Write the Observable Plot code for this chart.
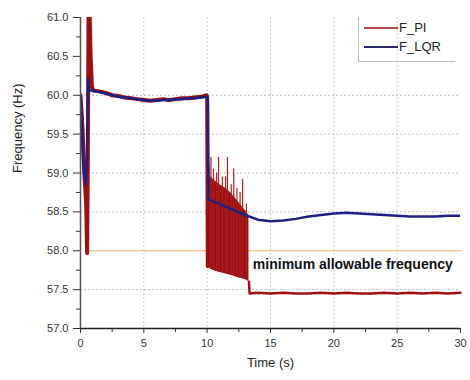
<!DOCTYPE html>
<html>
<head>
<meta charset="utf-8">
<script src="https://cdn.jsdelivr.net/npm/d3@7"></script>
<script src="https://cdn.jsdelivr.net/npm/@observablehq/plot@0.6"></script>
<style>
  html, body { margin: 0; padding: 0; background: #fff; }
  #wrap { position: relative; width: 470px; height: 380px; font-family: "Liberation Sans", Arial, sans-serif; }
  #legend { position: absolute; left: 358px; top: 17px; width: 97px; height: 45px; border-left: 1px solid #bbb; border-bottom: 1px solid #bbb; box-sizing: border-box; font-size: 13px; color: #222; }
  .row { position: absolute; left: 5px; display: flex; align-items: center; }
  .row span.sw { display: inline-block; width: 34px; height: 2px; margin-right: 1px; }
</style>
</head>
<body>
<div id="wrap">
  <div id="chart"></div>
  <div id="legend">
    <div class="row" style="top:3px"><span class="sw" style="background:#b84848"></span>F_PI</div>
    <div class="row" style="top:22px"><span class="sw" style="background:#2a2a6a"></span>F_LQR</div>
  </div>
</div>
<script>
// ---- data ----
const piTime = [0, 0.15, 0.3, 0.45, 0.52, 0.58, 0.64, 0.7, 0.8, 0.9, 1.0, 1.5, 2, 2.5, 3, 3.5, 4, 4.5, 5, 5.5, 6, 6.5, 7, 7.5, 8, 8.5, 9, 9.5, 9.95, 10.0, 10.05];
const piFreq = [60.0, 59.6, 59.0, 58.6, 57.97, 59.2, 61.3, 61.2, 60.5, 60.12, 60.06, 60.05, 60.03, 60.0, 59.99, 59.97, 59.96, 59.95, 59.94, 59.93, 59.94, 59.95, 59.94, 59.95, 59.96, 59.96, 59.97, 59.98, 60.0, 59.98, 57.8];

const bandTime  = [10.05, 10.3, 10.6, 11.0, 11.5, 12.0, 12.5, 13.0, 13.3];
const bandLow   = [57.82, 57.76, 57.74, 57.72, 57.70, 57.68, 57.65, 57.63, 57.6];
const bandHigh  = [59.0, 58.95, 58.9, 58.85, 58.8, 58.72, 58.62, 58.52, 58.45];

const spikeTime = [10.15, 10.3, 10.5, 10.75, 10.9, 11.2, 11.45, 11.6, 11.9, 12.1, 12.35, 12.6, 12.8, 13.1];
const spikeFreq = [59.1, 59.2, 59.05, 59.0, 59.2, 58.95, 58.95, 59.2, 58.85, 59.05, 58.8, 58.75, 58.92, 58.6];
const spikeBase = [57.8, 57.76, 57.75, 57.74, 57.72, 57.72, 57.7, 57.7, 57.69, 57.68, 57.66, 57.65, 57.64, 57.62];

const piTailTime = [13.3, 13.35, 14, 15, 16, 17, 18, 19, 20, 21, 22, 23, 24, 25, 26, 27, 28, 29, 30];
const piTailFreq = [57.6, 57.45, 57.46, 57.45, 57.46, 57.45, 57.45, 57.46, 57.45, 57.46, 57.45, 57.45, 57.46, 57.45, 57.46, 57.45, 57.46, 57.45, 57.46];

const lqrTime = [0, 0.1, 0.2, 0.3, 0.4, 0.5, 0.6, 0.7, 1, 1.5, 2, 2.5, 3, 3.5, 4, 4.5, 5, 5.5, 6, 6.5, 7, 7.5, 8, 8.5, 9, 9.5, 9.95, 10.05, 10.1, 11, 12, 13, 14, 15, 16, 17, 18, 19, 20, 21, 22, 23, 24, 25, 26, 27, 28, 29, 30];
const lqrFreq = [60.0, 59.6, 59.2, 58.95, 58.85, 59.1, 60.22, 60.06, 60.06, 60.04, 60.02, 60.0, 59.98, 59.97, 59.96, 59.95, 59.94, 59.93, 59.93, 59.94, 59.94, 59.95, 59.95, 59.96, 59.96, 59.97, 59.98, 59.95, 58.66, 58.6, 58.53, 58.46, 58.4, 58.38, 58.39, 58.41, 58.44, 58.46, 58.48, 58.49, 58.48, 58.47, 58.46, 58.45, 58.44, 58.44, 58.44, 58.45, 58.45];

const minTime = [0.52, 30];
const minFreq = [58.0, 58.0];

const yTicks = [57.0, 57.5, 58.0, 58.5, 59.0, 59.5, 60.0, 60.5, 61.0];
const yMinor = [57.25, 57.75, 58.25, 58.75, 59.25, 59.75, 60.25, 60.75];
const xTicks = [0, 5, 10, 15, 20, 25, 30];
const xMinor = [2.5, 7.5, 12.5, 17.5, 22.5, 27.5];
const yGrid = [57.5, 58.5, 59.0, 59.5, 60.0];
const xGrid = [5, 10, 15, 20, 25];

// ---- build tables ----
const zip = (t, v) => t.map((x, i) => ({t: x, f: v[i]}));
const pi = zip(piTime, piFreq);
const spikes = spikeTime.map((t, i) => ({t, hi: spikeFreq[i], lo: spikeBase[i]}));
const piTail = zip(piTailTime, piTailFreq);
const lqr = zip(lqrTime, lqrFreq);
const band = bandTime.map((t, i) => ({t, lo: bandLow[i], hi: bandHigh[i]}));
const minLine = zip(minTime, minFreq);

const RED = "#9c1010";
const BLUE = "#1f1f85";

const chart = Plot.plot({
  width: 470,
  height: 380,
  marginLeft: 80,
  marginRight: 10,
  marginTop: 17,
  marginBottom: 52,
  style: {fontFamily: "Liberation Sans, Arial, sans-serif", fontSize: "11px", color: "#333", background: "white"},
  x: {type: "linear", domain: [0, 30]},
  y: {type: "linear", domain: [57, 61]},
  marks: [
    Plot.ruleY(yGrid, {stroke: "#bbb", strokeDasharray: "2,2", strokeWidth: 1}),
    Plot.ruleX(xGrid, {stroke: "#ccc", strokeDasharray: "2,2", strokeWidth: 1}),
    Plot.line(minLine, {x: "t", y: "f", stroke: "#f0c890", strokeWidth: 1.5}),
    Plot.areaY(band, {x: "t", y1: "lo", y2: "hi", fill: RED, curve: "linear"}),
    Plot.ruleX(spikes, {x: "t", y1: "lo", y2: "hi", stroke: "#a82020", strokeWidth: 1.2}),
    Plot.line(pi, {x: "t", y: "f", stroke: RED, strokeWidth: 4, clip: true}),
    Plot.line(piTail, {x: "t", y: "f", stroke: RED, strokeWidth: 2.5}),
    Plot.line(lqr, {x: "t", y: "f", stroke: BLUE, strokeWidth: 2.5, clip: true}),
    Plot.text(["minimum allowable frequency"], {x: () => 21.5, y: () => 57.82, text: d => d, fontWeight: "bold", fontSize: 14, fill: "#111"}),
    // axes
    Plot.axisY(yTicks, {tickSize: 7, tickPadding: 5, tickFormat: d => d.toFixed(1), fontSize: 11, color: "#333", label: null}),
    Plot.axisY(yMinor, {tickSize: 4, tickFormat: () => "", color: "#333", label: null}),
    Plot.axisX(xTicks, {tickSize: 5, tickPadding: 6, fontSize: 11, color: "#333", label: null}),
    Plot.axisX(xMinor, {tickSize: 4, tickFormat: () => "", color: "#333", label: null}),
    Plot.ruleY([57], {stroke: "#222", strokeWidth: 1.5}),
    Plot.ruleX([0], {stroke: "#555", strokeWidth: 1.5}),
    Plot.text(["Frequency (Hz)"], {frameAnchor: "left", dx: -63, rotate: -90, text: d => d, fontSize: 13, fill: "#222"}),
    Plot.text(["Time (s)"], {frameAnchor: "bottom", dy: 38, text: d => d, fontSize: 13, fill: "#222"})
  ]
});
document.getElementById("chart").appendChild(chart);
</script>
</body>
</html>
